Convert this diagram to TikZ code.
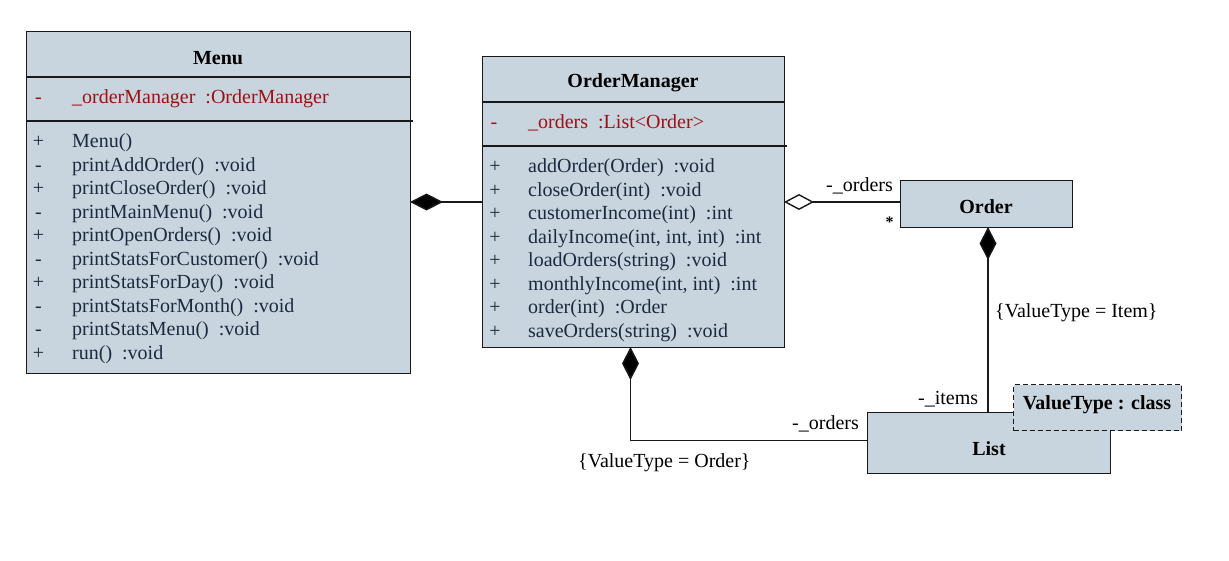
\documentclass[tikz,border=0pt]{standalone}
\usepackage{fontspec}
\setmainfont{Liberation Serif}
\usetikzlibrary{arrows.meta}
\definecolor{boxfill}{RGB}{200,212,222}
\definecolor{attrred}{RGB}{160,16,16}
\definecolor{methtxt}{RGB}{28,42,62}
\tikzset{
  classbox/.style={draw=black!90, line width=1.3pt, fill=boxfill, inner sep=0pt, anchor=north west},
  divider/.style={draw=black!90, line width=1.3pt},
  ttl/.style={font=\fontsize{20}{22}\selectfont\bfseries, text=black, inner sep=0pt},
  sgn/.style={font=\fontsize{20}{22}\selectfont, anchor=base, inner sep=0pt},
  mem/.style={font=\fontsize{20}{22}\selectfont, anchor=base west, inner sep=0pt},
  lbl/.style={font=\fontsize{20}{22}\selectfont, text=black, inner sep=0pt},
  conn/.style={draw=black!90, line width=1.4pt},
  comp/.style={conn, {Diamond[length=33pt,width=17pt,fill=black]}-},
  aggr/.style={conn, {Diamond[length=30pt,width=16pt,open,fill=white]}-},
  note/.style={draw=black!90, line width=1.4pt, dash pattern=on 5pt off 3pt, fill=boxfill, inner sep=0pt, anchor=north west}
}
\begin{document}
\begin{tikzpicture}[x=1pt,y=-1pt]
\useasboundingbox[fill=white] (0,0) rectangle (1229,561);

% ---------- Menu ----------
\node[classbox, minimum width=384pt, minimum height=342pt] (menu) at (26,31) {};
\draw[divider] (26,77) -- (410,77);
\draw[divider] (26,121) -- (413,121);
\node[ttl] (menut) at (218,58) {Menu};
\node[sgn, text=attrred] (ms0) at (38.5,104) {-};
\node[mem, text=attrred] (ma0) at (72,104) {\_orderManager\ \ :OrderManager};
\foreach \s/\t [count=\i from 0] in {
  +/{Menu()},
  -/{printAddOrder()\ \ :void},
  +/{printCloseOrder()\ \ :void},
  -/{printMainMenu()\ \ :void},
  +/{printOpenOrders()\ \ :void},
  -/{printStatsForCustomer()\ \ :void},
  +/{printStatsForDay()\ \ :void},
  -/{printStatsForMonth()\ \ :void},
  -/{printStatsMenu()\ \ :void},
  +/{run()\ \ :void}}{
  \node[sgn, text=methtxt] (mms\i) at (38.5,147.5+23.55*\i) {\s};
  \node[mem, text=methtxt] (mm\i) at (72,147.5+23.55*\i) {\t};
}

% ---------- OrderManager ----------
\node[classbox, minimum width=302pt, minimum height=291pt] (om) at (482,56) {};
\draw[divider] (482,102) -- (784,102);
\draw[divider] (482,146) -- (787,146);
\node[ttl] (omt) at (633,83) {OrderManager};
\node[sgn, text=attrred] (os0) at (494,129) {-};
\node[mem, text=attrred] (oa0) at (528,129) {\_orders\ \ :List<Order>};
\foreach \t [count=\i from 0] in {
  {addOrder(Order)\ \ :void},
  {closeOrder(int)\ \ :void},
  {customerIncome(int)\ \ :int},
  {dailyIncome(int, int, int)\ \ :int},
  {loadOrders(string)\ \ :void},
  {monthlyIncome(int, int)\ \ :int},
  {order(int)\ \ :Order},
  {saveOrders(string)\ \ :void}}{
  \node[sgn, text=methtxt] (oms\i) at (495,172.5+23.57*\i) {+};
  \node[mem, text=methtxt] (om\i) at (528,172.5+23.57*\i) {\t};
}

% ---------- Order ----------
\node[classbox, minimum width=172pt, minimum height=47pt] (order) at (900,180) {};
\node[ttl] (ordert) at (986,207) {Order};

% ---------- List ----------
\node[classbox, minimum width=243pt, minimum height=61pt] (list) at (867,412) {};
\node[ttl] (listt) at (989,449) {List};
\node[note, minimum width=168pt, minimum height=46pt] (vt) at (1013,384) {};
\node[ttl] (vtt) at (1097,405) {ValueType : class};

% ---------- connectors ----------
\coordinate (omE) at (784,202);
\coordinate (orderW) at (900,202);
\coordinate (menuE) at (410,202);
\coordinate (omW) at (482,202);
\coordinate (omS) at (630.5,347);
\coordinate (listW) at (867,440.5);
\coordinate (orderS) at (988,227);
\coordinate (listN) at (988,412);

\draw[comp] (menuE) -- (omW);
\draw[aggr] (omE) -- (orderW);
\draw[comp] (orderS) -- (listN);
\draw[comp] (omS) |- (listW);

% ---------- labels ----------
\node[lbl, anchor=base west] (l1) at (826,192) {-\_orders};
\node[lbl, anchor=center, font=\fontsize{16}{18}\selectfont\bfseries] (l2) at (889.5,222) {*};
\node[lbl, anchor=base west] (l3) at (995,318) {\{ValueType = Item\}};
\node[lbl, anchor=base west] (l4) at (918,404) {-\_items};
\node[lbl, anchor=base west] (l5) at (792,429) {-\_orders};
\node[lbl, anchor=base west] (l6) at (578,467) {\{ValueType = Order\}};
\end{tikzpicture}
\end{document}
